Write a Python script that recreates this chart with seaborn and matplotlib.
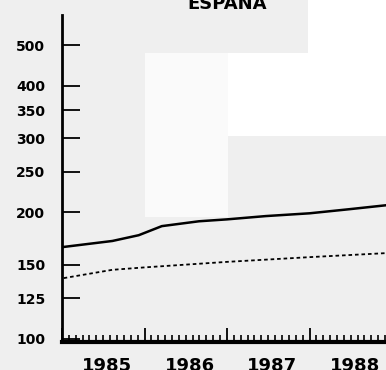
import numpy as np
import pandas as pd
import matplotlib
matplotlib.use('Agg')
import matplotlib.pyplot as plt
import matplotlib.ticker as mticker
from matplotlib.patches import Rectangle
import seaborn as sns

# values (log scale)
years_solid = [1985.02, 1985.61, 1985.93, 1986.21, 1986.66, 1987.0, 1987.47, 1988.0, 1988.48, 1988.93]
solid_vals = [165.5, 171, 176.5, 185.5, 190.5, 192.5, 196, 199, 203.5, 208]
years_dotted = [1985.02, 1985.61, 1986.01, 1987.0, 1988.0, 1988.93]
dotted_vals = [139.5, 146, 148, 152.5, 156.5, 160]

ytick_vals = [100, 125, 150, 200, 250, 300, 350, 400, 500]
year_labels = ['1985', '1986', '1987', '1988']

solid = pd.DataFrame({'year': years_solid, 'value': solid_vals})
dotted = pd.DataFrame({'year': years_dotted, 'value': dotted_vals})

bg = '#efefef'
W, H = 386, 370
fig = plt.figure(figsize=(W / 100, H / 100), dpi=100, facecolor=bg)

# scan artefacts: lighter blocks in the background
for x0, y0, x1, y1, c in [(145, 53, 228, 217, '#fafafa'),
                          (228, 53, 386, 136, 'white'),
                          (308, 0, 386, 53, 'white')]:
    fig.patches.append(Rectangle((x0 / W, 1 - y1 / H), (x1 - x0) / W, (y1 - y0) / H,
                                 transform=fig.transFigure, facecolor=c,
                                 edgecolor='none', zorder=0))

ax = fig.add_axes([62 / W, 1 - 342 / H, 1 - 62 / W, (342 - 15) / H])
ax.set_facecolor('none')

sns.lineplot(data=solid, x='year', y='value', ax=ax, color='black', lw=1.8)
sns.lineplot(data=dotted, x='year', y='value', ax=ax, color='black', lw=1.3,
             linestyle=(0, (2, 1.6)))

ax.set_yscale('log')
ax.set_ylim(98.3, 590)
ax.set_xlim(1985.0, 1985.0 + (W - 62) / 82.5)

ax.yaxis.set_major_locator(mticker.FixedLocator(ytick_vals))
ax.yaxis.set_major_formatter(mticker.FixedFormatter([str(v) for v in ytick_vals]))
ax.yaxis.set_minor_locator(mticker.NullLocator())
ax.tick_params(axis='y', direction='in', length=13, width=1.3, pad=12,
               labelsize=10, color='black')
for t in ax.get_yticklabels():
    t.set_fontweight('bold')

ax.set_xlabel('')
ax.set_ylabel('')
for s in ['top', 'right']:
    ax.spines[s].set_visible(False)
ax.spines['left'].set_linewidth(2)
ax.spines['bottom'].set_linewidth(3)

# year ticks and monthly ticks, pointing inward
ax.xaxis.set_major_locator(mticker.FixedLocator(np.arange(1985, 1990)))
ax.xaxis.set_minor_locator(mticker.FixedLocator(np.arange(1985, 1989.99, 1 / 12)))
ax.xaxis.set_major_formatter(mticker.NullFormatter())
ax.tick_params(axis='x', which='major', direction='in', length=10, width=1.3,
               bottom=True)
ax.tick_params(axis='x', which='minor', direction='in', length=5, width=1.2,
               bottom=True)

# year labels centred in each year
for lab in year_labels:
    ax.text(int(lab) + 0.55, -0.045, lab, transform=ax.get_xaxis_transform(),
            ha='center', va='top', fontsize=13, fontweight='bold')

fig.text(227 / W, 1 - 13 / H, 'ESPAÑA', ha='center', va='bottom',
         fontsize=13, fontweight='bold')

fig.savefig('out.png', dpi=100, facecolor=bg)
